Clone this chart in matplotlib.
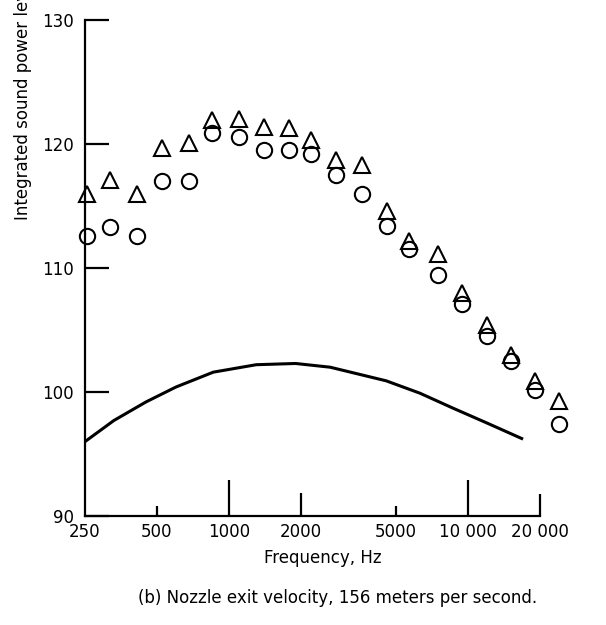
#!/usr/bin/env python3
"""
Integrated sound power level vs frequency, nozzle exit velocity 156 m/s.
"""

import matplotlib
matplotlib.use("Agg")
import matplotlib.pyplot as plt

matplotlib.rcParams['font.family'] = ['Liberation Sans Narrow', 'DejaVu Sans']
matplotlib.rcParams['font.size'] = 12

# band frequencies (Hz)
freqs = [254, 319, 412, 524, 679, 848, 1099, 1396, 1775, 2200,
         2806, 3590, 4590, 5680, 7460, 9480, 12020, 15120, 19100, 24000]
level_tri = [116.0, 117.1, 116.0, 119.7, 120.1, 121.9, 122.0, 121.4, 121.3, 120.3,
             118.7, 118.3, 114.6, 112.2, 111.1, 108.0, 105.4, 103.0, 100.9, 99.3]
level_circ = [112.6, 113.3, 112.6, 117.0, 117.0, 120.9, 120.6, 119.5, 119.5, 119.2,
              117.5, 116.0, 113.4, 111.5, 109.4, 107.1, 104.5, 102.5, 100.2, 97.4]

# solid curve
curve_f = [250, 330, 450, 600, 860, 1300, 1900, 2650, 4550, 6300, 8650, 12000, 17000]
curve_l = [96.0, 97.7, 99.2, 100.4, 101.6, 102.2, 102.3, 102.0, 100.9, 99.9, 98.7, 97.5, 96.2]

xticks = [250, 500, 1000, 2000, 5000, 10000, 20000]
xticklabels = ['250', '500', '1000', '2000', '5000', '10 000', '20 000']
xtick_len = [0, 7, 26, 16.5, 7, 26, 16]
yticks = [90, 100, 110, 120, 130]

fig = plt.figure(figsize=(6.06, 6.25), dpi=100)
ax = fig.add_axes([0.1403, 0.1744, 0.891 - 0.1403, 0.968 - 0.1744])

ax.plot(curve_f, curve_l, color='black', linewidth=2.2, solid_capstyle='butt')
ax.plot(freqs, level_tri, linestyle='none', marker='^', markersize=12,
        markerfacecolor='none', markeredgecolor='black', markeredgewidth=1.5, clip_on=False)
ax.plot(freqs, level_circ, linestyle='none', marker='o', markersize=11,
        markerfacecolor='none', markeredgecolor='black', markeredgewidth=1.5, clip_on=False)

ax.set_xscale('log')
ax.set_xlim(250, 20000)
ax.set_ylim(90, 130)
ax.minorticks_off()
ax.set_xticks(xticks)
ax.set_xticklabels(xticklabels)
ax.set_yticks(yticks)
ax.tick_params(axis='x', direction='in', width=1.6, pad=5)
ax.tick_params(axis='y', direction='in', length=17, width=1.6, pad=8)
for t, L in zip(ax.xaxis.get_major_ticks(), xtick_len):
    t.tick1line.set_markersize(L)

for s in ['top', 'right']:
    ax.spines[s].set_visible(False)
for s in ['left', 'bottom']:
    ax.spines[s].set_linewidth(1.6)

fig.text(323 / 606, 1 - 558 / 625, 'Frequency, Hz', ha='center', va='center', fontsize=12)
fig.text(338 / 606, 1 - 598 / 625, '(b) Nozzle exit velocity, 156 meters per second.',
         ha='center', va='center', fontsize=12)
fig.text(23 / 606, 1 - 220 / 625, 'Integrated sound power level, dB', rotation=90,
         ha='center', va='bottom', fontsize=12)

fig.savefig('out.png', dpi=100)
plt.close(fig)
